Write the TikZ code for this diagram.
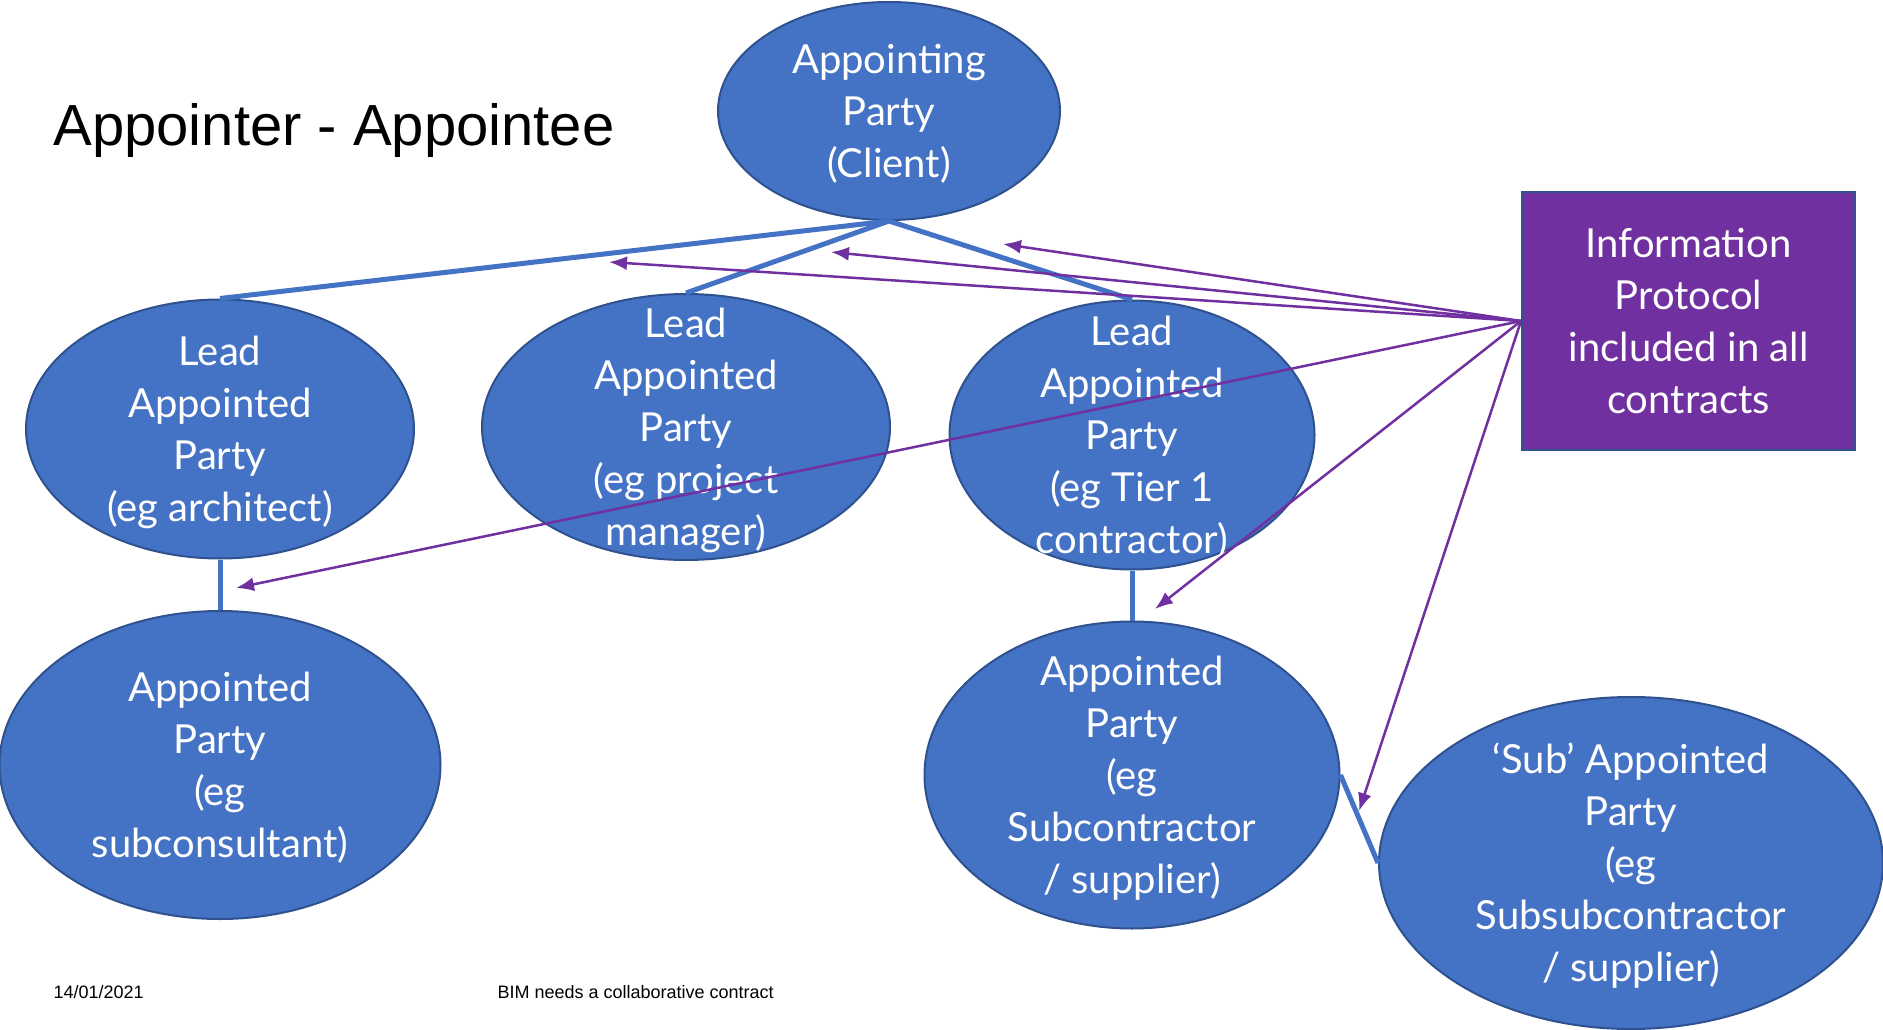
\documentclass[tikz,border=0pt]{standalone}
\usepackage{fontspec}
\usepackage{xcolor}
\usepackage{tikz}
\usetikzlibrary{shapes.geometric}
\usetikzlibrary{arrows.meta}
\setmainfont{Liberation Sans}
\newfontfamily\partyfont{Lato}
\definecolor{partyblue}{HTML}{4472C4}
\definecolor{edgeblue}{HTML}{2F528F}
\definecolor{protocolpurple}{HTML}{7030A0}
\tikzstyle{party}=[ellipse, draw=edgeblue, line width=2pt, fill=partyblue, inner sep=0pt]
\tikzstyle{partytext}=[text=white, align=center, inner sep=0pt, font=\partyfont\fontsize{40}{52}\selectfont]
\tikzstyle{partylabel}=[partytext, yshift=-3pt]
\tikzstyle{link}=[partyblue, line width=5pt]
\tikzstyle{protocol}=[->, protocolpurple, line width=2.5pt]

\begin{document}
\begin{tikzpicture}[x=1pt, y=-1pt, >={Latex[length=18pt,width=14pt]}]
                \useasboundingbox (0,0) rectangle (1883,1030);
                \node [anchor=base west, font=\fontsize{58}{70}\selectfont] (title) at (50,146) {Appointer - Appointee};
                % parties
                \node [party, minimum width=342pt, minimum height=218pt] (client) at (889,111) {};
                \node [party, minimum width=388pt, minimum height=259pt] (arch) at (220,429) {};
                \node [party, minimum width=408pt, minimum height=266pt] (pm) at (686,427) {};
                \node [party, minimum width=365pt, minimum height=269pt] (tier) at (1132,435) {};
                \node [party, minimum width=441pt, minimum height=308pt] (subcons) at (220,765) {};
                \node [party, minimum width=415pt, minimum height=307pt] (subcon) at (1132,775) {};
                \node [party, minimum width=504pt, minimum height=332pt] (subsub) at (1631,863) {};
                \node [partylabel] (client-t) at (client) {Appointing\\Party\\(Client)};
                \node [partylabel] (arch-t) at (arch) {Lead\\Appointed\\Party\\(eg architect)};
                \node [partylabel] (pm-t) at (pm) {Lead\\Appointed\\Party\\(eg project\\manager)};
                \node [partylabel] (tier-t) at (tier) {Lead\\Appointed\\Party\\(eg Tier 1\\contractor)};
                \node [partylabel] (subcons-t) at (subcons) {Appointed\\Party\\(eg\\subconsultant)};
                \node [partylabel] (subcon-t) at (subcon) {Appointed\\Party\\(eg\\Subcontractor\\/ supplier)};
                \node [partylabel] (subsub-t) at (subsub) {‘Sub’ Appointed\\Party\\(eg\\Subsubcontractor\\/ supplier)};
                \node [rectangle, draw=edgeblue, line width=2pt, fill=protocolpurple, minimum width=333pt, minimum height=258pt, partytext] (info) at (1688.5,321) {Information\\Protocol\\included in all\\contracts};
                % appointments
                \draw [link] (client.south) -- (arch.north);
                \draw [link] (client.south) -- (pm.north);
                \draw [link] (client.south) -- (tier.north);
                \draw [link] (arch.south) -- (subcons.north);
                \draw [link] (tier.south) -- (subcon.north);
                \draw [link] (subcon.east) -- (subsub.west);
                % information protocol
                \coordinate (tipA) at (1003,244);
                \coordinate (tipB) at (831,252);
                \coordinate (tipC) at (609,262);
                \coordinate (tipD) at (236,588);
                \coordinate (tipE) at (1155,609);
                \coordinate (tipF) at (1359,811);
                \draw [protocol] (info.west) -- (tipA);
                \draw [protocol] (info.west) -- (tipB);
                \draw [protocol] (info.west) -- (tipC);
                \draw [protocol] (info.west) -- (tipD);
                \draw [protocol] (info.west) -- (tipE);
                \draw [protocol] (info.west) -- (tipF);
                % footer
                \node [anchor=base west, font=\fontsize{18}{22}\selectfont] (date) at (50,998) {14/01/2021};
                \node [anchor=base west, font=\fontsize{18}{22}\selectfont] (footer) at (494,998) {BIM needs a collaborative contract};
            \end{tikzpicture}
\end{document}
